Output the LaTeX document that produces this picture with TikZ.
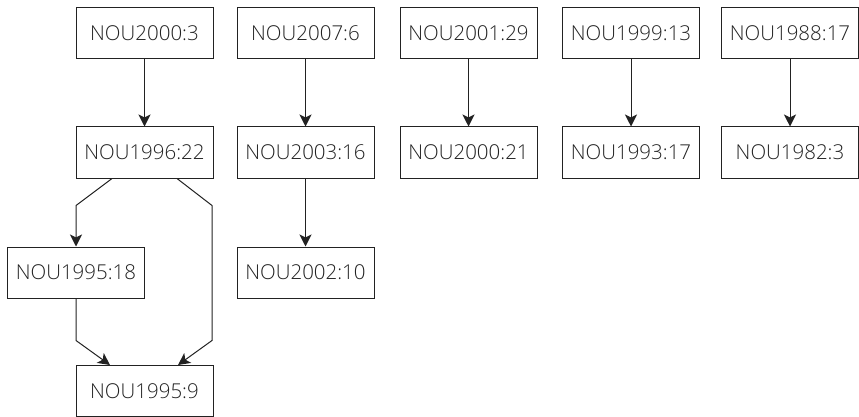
\documentclass[tikz,border=0pt]{standalone}
\usepackage{fontspec}
\IfFontExistsTF{Open Sans Light}{\setmainfont{Open Sans Light}}{\setmainfont{Open Sans}}
\usetikzlibrary{arrows.meta}
\definecolor{ink}{HTML}{222222}
\tikzset{
  box/.style={draw=ink, line width=1pt, minimum width=137pt, minimum height=51pt, inner sep=0pt, text=ink, font=\fontsize{20.5}{24}\selectfont},
  arr/.style={draw=ink, line width=1pt, -{Stealth[length=12pt,width=12pt,inset=3pt]}}
}
\begin{document}
\begin{tikzpicture}[x=1pt,y=-1pt]
\useasboundingbox (0,0) rectangle (859,417);
% column 1
\node[box] (a1) at (144.5,33.5) {NOU2000:3};
\node[box] (a2) at (144.5,152.5) {NOU1996:22};
\node[box] (a3) at (76,272.5) {NOU1995:18};
\node[box] (a4) at (144.5,391) {NOU1995:9};
% column 2
\node[box] (b1) at (305.5,33.5) {NOU2007:6};
\node[box] (b2) at (305.5,152.5) {NOU2003:16};
\node[box] (b3) at (305.5,272.5) {NOU2002:10};
% column 3
\node[box] (c1) at (468.5,33.5) {NOU2001:29};
\node[box] (c2) at (468.5,152.5) {NOU2000:21};
% column 4
\node[box] (d1) at (631,33.5) {NOU1999:13};
\node[box] (d2) at (631,152.5) {NOU1993:17};
% column 5
\node[box] (e1) at (790,33.5) {NOU1988:17};
\node[box] (e2) at (790,152.5) {NOU1982:3};
% edges
\draw[arr] (a1) -- (a2);
\draw[arr] ([xshift=-32.5pt]a2.south) -- ++(-36,27) -- (a3.north);
\draw[arr] ([xshift=32.5pt]a2.south) -- ++(35,27) -- ++(0,135) -- ([xshift=33.5pt]a4.north);
\draw[arr] (a3.south) -- ++(0,42) -- ([xshift=-34.5pt]a4.north);
\draw[arr] (b1) -- (b2);
\draw[arr] (b2) -- (b3);
\draw[arr] (c1) -- (c2);
\draw[arr] (d1) -- (d2);
\draw[arr] (e1) -- (e2);
\end{tikzpicture}
\end{document}
